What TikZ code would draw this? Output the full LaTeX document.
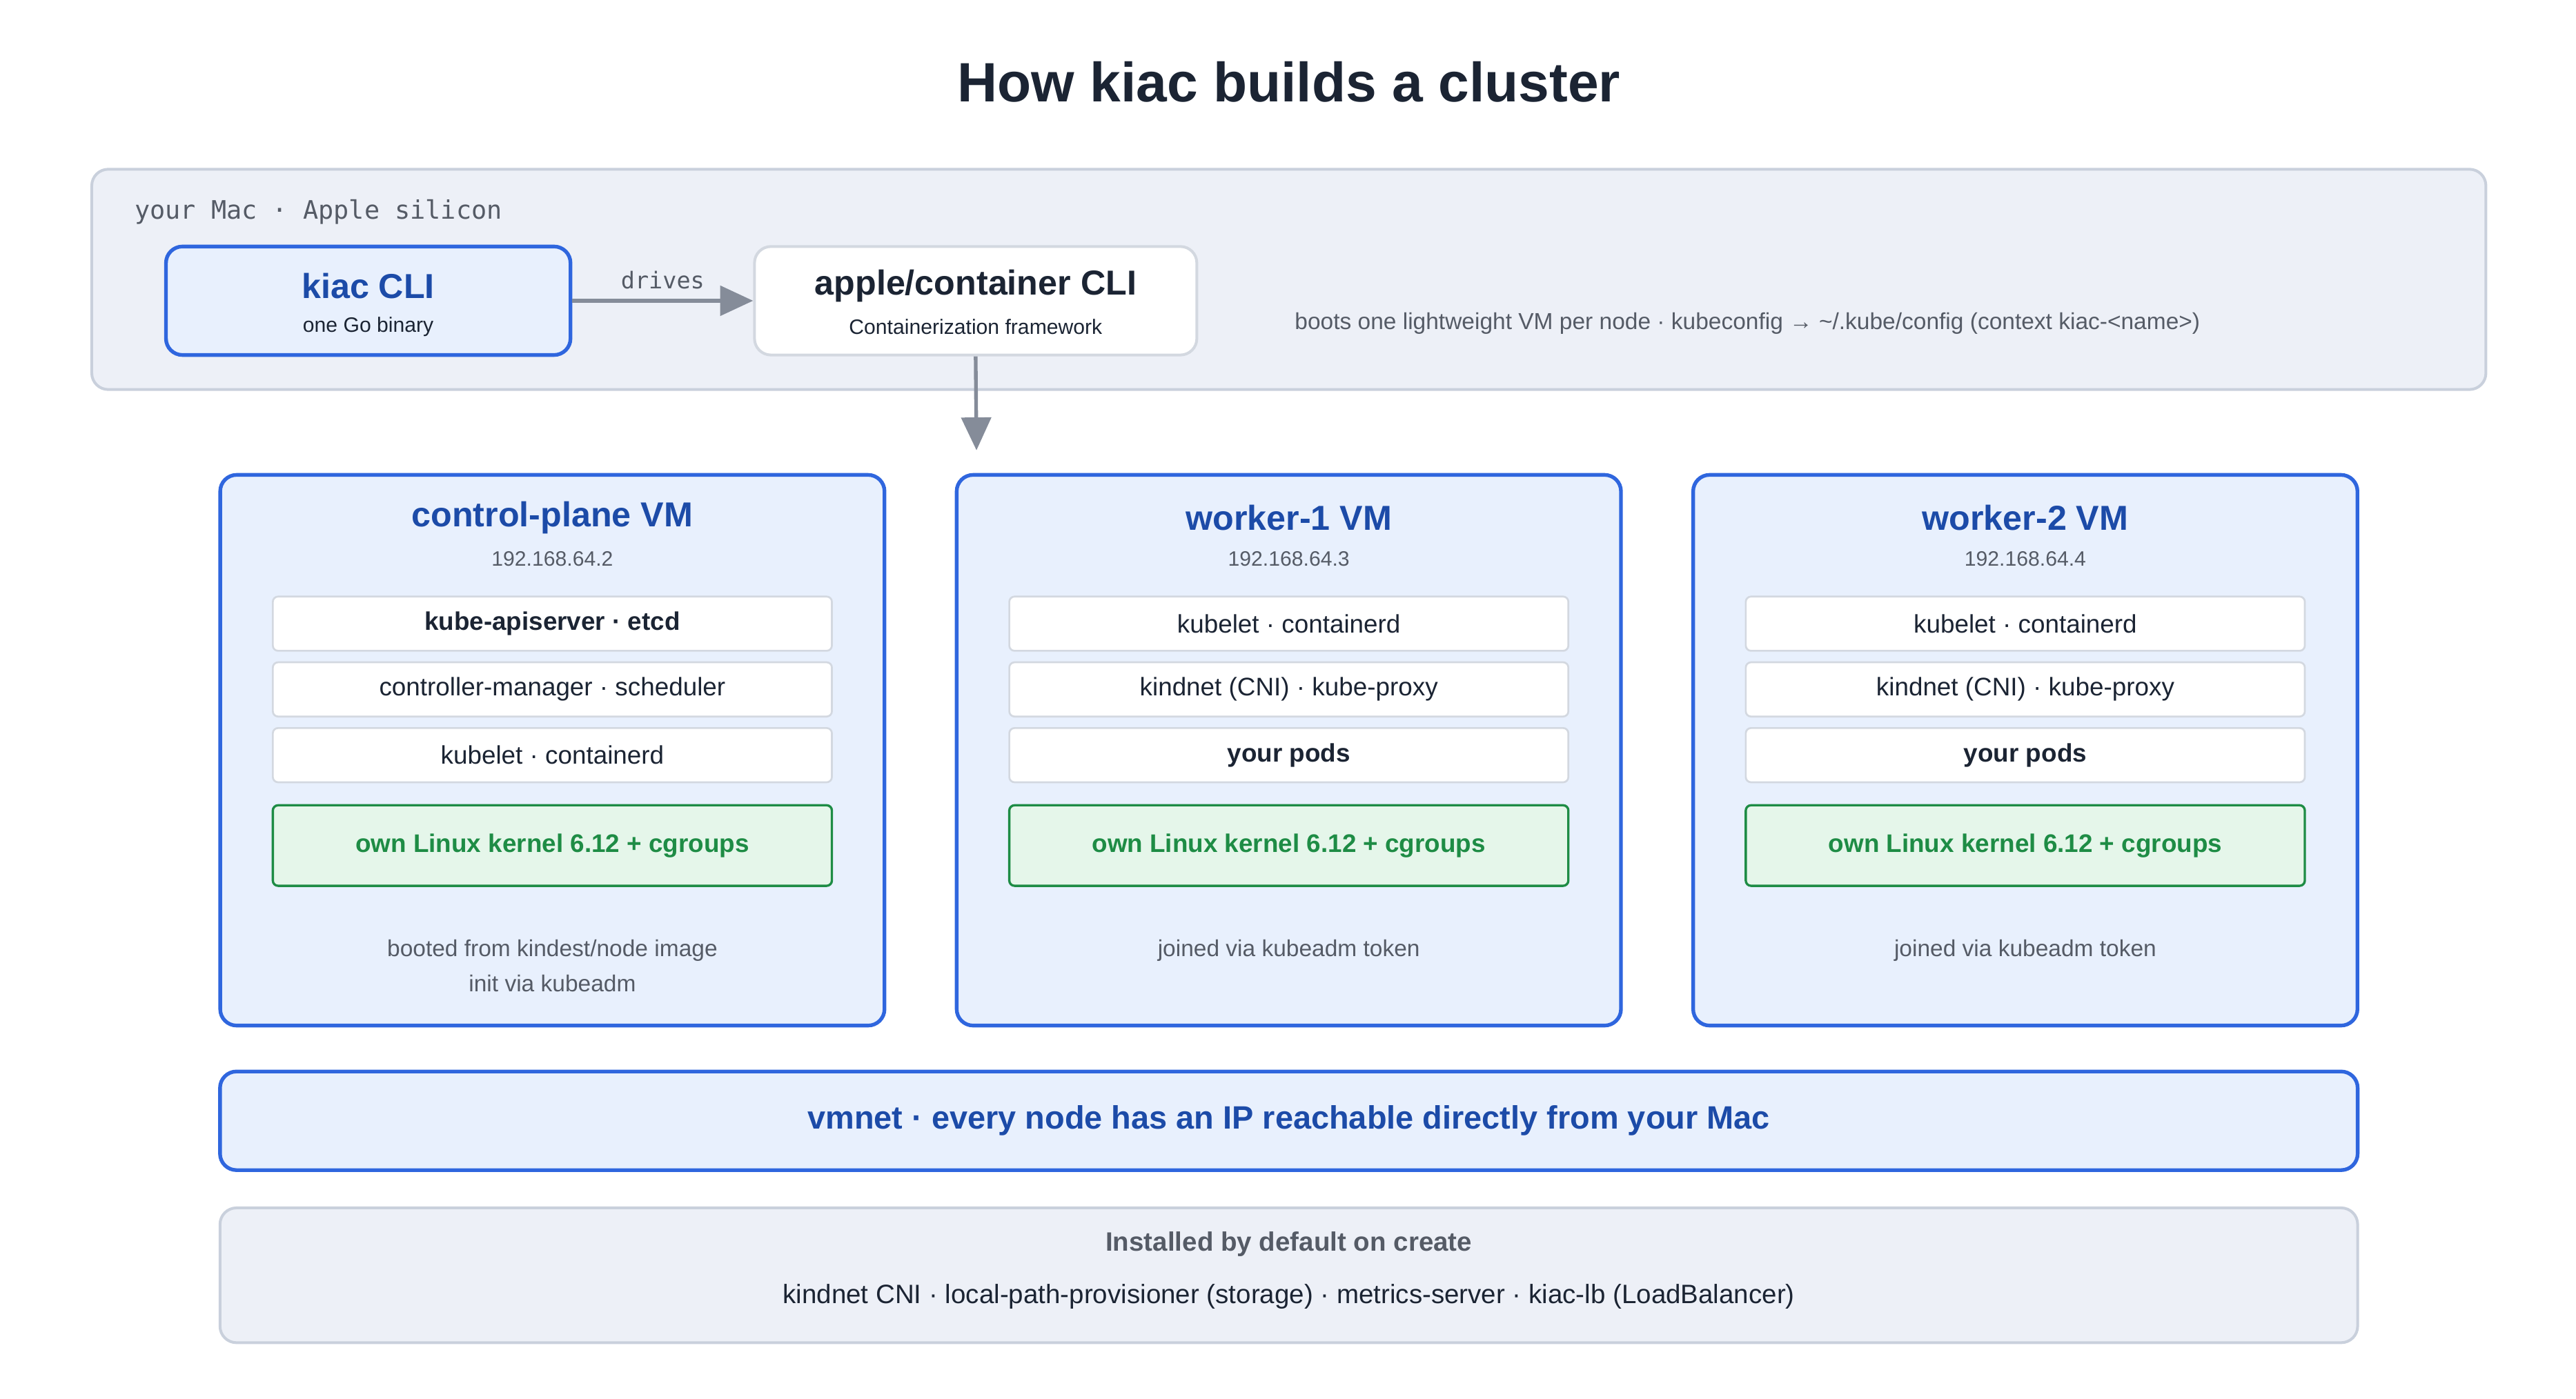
\documentclass[tikz,border=0pt]{standalone}
\usepackage{fontspec}
\setmainfont{Liberation Sans}
\setmonofont{DejaVu Sans Mono}
\usetikzlibrary{positioning,arrows.meta,calc}
\definecolor{navy}{HTML}{1B2433}
\definecolor{vmblue}{HTML}{2F66DE}
\definecolor{vmtext}{HTML}{1C4BA8}
\definecolor{vmfill}{HTML}{E8F0FD}
\definecolor{macfill}{HTML}{EDF0F7}
\definecolor{macline}{HTML}{C9D0DC}
\definecolor{rowline}{HTML}{D3D8E0}
\definecolor{kgreen}{HTML}{1E8C45}
\definecolor{kfill}{HTML}{E5F6EA}
\definecolor{muted}{HTML}{555B66}
\definecolor{arrowgray}{HTML}{858C99}
\tikzset{
  box/.style={draw, rounded corners=0.25cm, inner sep=0pt},
  bluebox/.style={box, draw=vmblue, fill=vmfill, line width=1.6pt},
  graybox/.style={box, draw=macline, fill=macfill, line width=1.2pt},
  row/.style={draw=rowline, fill=white, rounded corners=0.08cm, line width=0.8pt,
    minimum width=8.5cm, minimum height=0.825cm, font=\fontsize{11}{13}\selectfont, text=navy},
  small/.style={font=\fontsize{9}{11}\selectfont, text=muted},
  link/.style={draw=arrowgray, line width=1.6pt, -{Triangle[length=0.5cm,width=0.45cm]}}
}
\begin{document}
\begin{tikzpicture}[x=0.025cm,y=-0.025cm]
\useasboundingbox (0,0) rectangle (1567,851);

\node[font=\bfseries\fontsize{24}{28}\selectfont, text=navy] (title) at (784,50) {How kiac builds a cluster};

% host
\node[graybox, minimum width=36.4cm, minimum height=3.35cm] (mac) at (784,170) {};
\node[anchor=west, font=\ttfamily\fontsize{11}{13}\selectfont, text=muted] (maclbl) at (77,129) {your Mac · Apple silicon};

\node[bluebox, minimum width=6.15cm, minimum height=1.65cm] (cli) at (224,183) {};
\node[font=\bfseries\fontsize{15}{18}\selectfont, text=vmtext] (clit) at (224,174) {kiac CLI};
\node[small, text=navy] (clis) at (224,199) {one Go binary};

\node[box, draw=rowline, fill=white, line width=1.2pt, minimum width=6.725cm, minimum height=1.65cm] (ctr) at (593.5,183) {};
\node[font=\bfseries\fontsize{15}{18}\selectfont, text=navy] (ctrt) at (593.5,174) {apple/container CLI};
\node[small, text=navy] (ctrs) at (593.5,199) {Containerization framework};

\draw[link] (cli.east) -- node[above=1pt, font=\ttfamily\fontsize{10}{12}\selectfont, text=muted] {drives} (ctr.west);
\node[small, font=\fontsize{10}{12}\selectfont] (boots) at (1063,197) {boots one lightweight VM per node · kubeconfig → \textasciitilde/.kube/config (context kiac-<name>)};

\coordinate (vmtop) at (594,274);
\draw[link] (ctr.south) -- (vmtop);

% nodes
\foreach \i/\x/\name/\ip/\ra/\rb/\rc/\foot in {
  1/336/control-plane/2/{\textbf{kube-apiserver · etcd}}/{controller-manager · scheduler}/{kubelet · containerd}/{booted from kindest/node image\\init via kubeadm},
  2/784/worker-1/3/{kubelet · containerd}/{kindnet (CNI) · kube-proxy}/{\textbf{your pods}}/{joined via kubeadm token},
  3/1232/worker-2/4/{kubelet · containerd}/{kindnet (CNI) · kube-proxy}/{\textbf{your pods}}/{joined via kubeadm token}}{
  \node[bluebox, minimum width=10.1cm, minimum height=8.375cm] (vm\i) at (\x,456.5) {};
  \node[font=\bfseries\fontsize{15}{18}\selectfont, text=vmtext] (vmt\i) at (\x,315) {\name\ VM};
  \node[small] (ip\i) at (\x,340) {192.168.64.\ip};
  \node[row] (ra\i) at (\x,379.5) {\ra};
  \node[row] (rb\i) at (\x,419.5) {\rb};
  \node[row] (rc\i) at (\x,459.5) {\rc};
  \node[row, draw=kgreen, fill=kfill, text=kgreen, minimum height=1.225cm, font=\bfseries\fontsize{11}{13}\selectfont, line width=1pt] (kern\i) at (\x,514.5) {own Linux kernel 6.12 + cgroups};
  \node[small, font=\fontsize{10}{15}\selectfont, align=center, anchor=north] (foot\i) at (\x,567) {\foot};
}

% network
\node[bluebox, minimum width=32.5cm, minimum height=1.5cm, font=\bfseries\fontsize{14}{17}\selectfont, text=vmtext] (net) at (784,682) {vmnet · every node has an IP reachable directly from your Mac};

% defaults
\node[graybox, minimum width=32.5cm, minimum height=2.05cm] (inst) at (784,776) {};
\node[font=\bfseries\fontsize{11.5}{14}\selectfont, text=muted] (instt) at (784,757) {Installed by default on create};
\node[font=\fontsize{11.5}{14}\selectfont, text=navy] (insts) at (784,789) {kindnet CNI · local-path-provisioner (storage) · metrics-server · kiac-lb (LoadBalancer)};
\end{tikzpicture}
\end{document}
